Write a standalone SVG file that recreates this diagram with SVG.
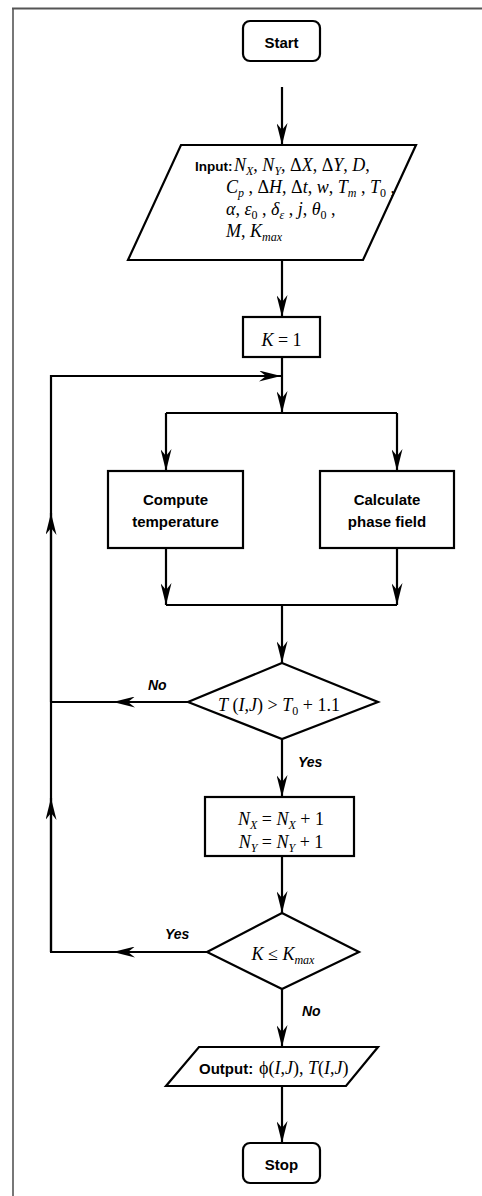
<svg xmlns="http://www.w3.org/2000/svg" width="482" height="1196" viewBox="0 0 482 1196">
<style>
.ln{stroke:#000;stroke-width:2.2;fill:none}
.box{fill:#fff;stroke:#000;stroke-width:2.2}
.lbl{font-family:"Liberation Sans",Arial,sans-serif;font-weight:bold;font-size:15px;fill:#000}
.yn{font-family:"Liberation Sans",Arial,sans-serif;font-weight:bold;font-style:italic;font-size:14px;fill:#000}
.m{font-family:"Liberation Serif","Times New Roman",serif;font-style:italic;font-size:18px;fill:#000}
.up{font-style:normal}
.sb{font-size:12px}
</style>
<defs>
<marker id="ah" markerUnits="userSpaceOnUse" markerWidth="22" markerHeight="11" viewBox="0 0 22 11" refX="22" refY="5.5" orient="auto">
<path d="M0,0 L22,5.5 L0,11 L7,5.5 Z" fill="#000"/>
</marker>
</defs>
<rect width="482" height="1196" fill="#fff"/>
<g id="frame">
<line x1="13" y1="8" x2="13" y2="1196" stroke="#777" stroke-width="2"/>
<line x1="12" y1="8.5" x2="482" y2="8.5" stroke="#555" stroke-width="2"/>
</g>
<g id="connectors">
<line class="ln" x1="282" y1="87" x2="282" y2="145" marker-end="url(#ah)"/>
<line class="ln" x1="282" y1="260" x2="282" y2="317" marker-end="url(#ah)"/>
<line class="ln" x1="282" y1="357" x2="282" y2="413" marker-end="url(#ah)"/>
<polyline class="ln" points="51,952 51,376 281,376" marker-end="url(#ah)"/>
<line class="ln" x1="51" y1="952" x2="51" y2="798" marker-end="url(#ah)"/>
<line class="ln" x1="51" y1="702" x2="51" y2="513" marker-end="url(#ah)"/>
<line class="ln" x1="166" y1="413" x2="397" y2="413"/>
<line class="ln" x1="166" y1="413" x2="166" y2="471" marker-end="url(#ah)"/>
<line class="ln" x1="397" y1="413" x2="397" y2="471" marker-end="url(#ah)"/>
<line class="ln" x1="166" y1="548" x2="166" y2="605" marker-end="url(#ah)"/>
<line class="ln" x1="397" y1="548" x2="397" y2="605" marker-end="url(#ah)"/>
<line class="ln" x1="166" y1="605" x2="397" y2="605"/>
<line class="ln" x1="282" y1="605" x2="282" y2="663" marker-end="url(#ah)"/>
<line class="ln" x1="188" y1="702" x2="113" y2="702" marker-end="url(#ah)"/>
<line class="ln" x1="114" y1="702" x2="51" y2="702"/>
<line class="ln" x1="282" y1="739" x2="282" y2="797" marker-end="url(#ah)"/>
<line class="ln" x1="282" y1="856" x2="282" y2="913" marker-end="url(#ah)"/>
<line class="ln" x1="207" y1="952" x2="113" y2="952" marker-end="url(#ah)"/>
<line class="ln" x1="114" y1="952" x2="50" y2="952"/>
<line class="ln" x1="282" y1="989" x2="282" y2="1047" marker-end="url(#ah)"/>
<line class="ln" x1="282" y1="1086" x2="282" y2="1143" marker-end="url(#ah)"/>
<text class="yn" x="148" y="690">No</text>
<text class="yn" x="298" y="767">Yes</text>
<text class="yn" x="165" y="939">Yes</text>
<text class="yn" x="302" y="1016">No</text>
</g>
<g id="start">
<rect class="box" x="243" y="21" width="77" height="40" rx="7"/>
<text class="lbl" x="281.5" y="48" text-anchor="middle">Start</text>
</g>
<g id="input">
<polygon class="box" points="181,145 416,145 363,260 128,260"/>
<text x="195" y="171"><tspan class="lbl" style="font-size:13.5px">Input:</tspan></text>
<text class="m" x="234" y="171">N<tspan class="sb" dy="4">X</tspan><tspan class="up" dy="-4">, </tspan>N<tspan class="sb" dy="4">Y</tspan><tspan class="up" dy="-4">, Δ</tspan>X<tspan class="up">, Δ</tspan>Y<tspan class="up">, </tspan>D<tspan class="up">,</tspan></text>
<text class="m" x="226" y="193">C<tspan class="sb" dy="4">p</tspan><tspan class="up" dy="-4"> , Δ</tspan>H<tspan class="up">, Δ</tspan>t<tspan class="up">, </tspan>w<tspan class="up">, </tspan>T<tspan class="sb" dy="4">m</tspan><tspan class="up" dy="-4"> , </tspan>T<tspan class="sb up" dy="4">0</tspan><tspan class="up" dy="-4"> ,</tspan></text>
<text class="m" x="226" y="215">α<tspan class="up">, </tspan>ε<tspan class="sb up" dy="4">0</tspan><tspan class="up" dy="-4"> , </tspan>δ<tspan class="sb" dy="4">ε</tspan><tspan class="up" dy="-4"> , </tspan>j<tspan class="up">, </tspan>θ<tspan class="sb up" dy="4">0</tspan><tspan class="up" dy="-4"> ,</tspan></text>
<text class="m" x="226" y="237">M<tspan class="up">, </tspan>K<tspan class="sb" dy="4">max</tspan></text>
</g>
<g id="k1">
<rect class="box" x="243" y="317" width="77" height="40"/>
<text class="m" x="281.5" y="346" text-anchor="middle">K<tspan class="up"> = 1</tspan></text>
</g>
<g id="temp">
<rect class="box" x="108" y="471" width="135" height="77"/>
<text class="lbl" x="175.5" y="505" text-anchor="middle">Compute</text>
<text class="lbl" x="175.5" y="527" text-anchor="middle">temperature</text>
</g>
<g id="phase">
<rect class="box" x="320" y="471" width="134" height="77"/>
<text class="lbl" x="387" y="505" text-anchor="middle">Calculate</text>
<text class="lbl" x="387" y="527" text-anchor="middle">phase field</text>
</g>
<g id="cond1">
<polygon class="box" points="282,663 378,702 282,739 188,702"/>
<text class="m" x="279" y="711" text-anchor="middle">T<tspan class="up"> (</tspan>I<tspan class="up">,</tspan>J<tspan class="up">) &gt; </tspan>T<tspan class="sb up" dy="4">0</tspan><tspan class="up" dy="-4"> + 1.1</tspan></text>
</g>
<g id="update">
<rect class="box" x="205" y="797" width="149" height="59"/>
<text class="m" x="281" y="825" text-anchor="middle">N<tspan class="sb" dy="4">X</tspan><tspan class="up" dy="-4"> =  </tspan>N<tspan class="sb" dy="4">X</tspan><tspan class="up" dy="-4"> + 1</tspan></text>
<text class="m" x="281" y="848" text-anchor="middle">N<tspan class="sb" dy="4">Y</tspan><tspan class="up" dy="-4"> =  </tspan>N<tspan class="sb" dy="4">Y</tspan><tspan class="up" dy="-4"> + 1</tspan></text>
</g>
<g id="cond2">
<polygon class="box" points="282,913 359,952 282,989 207,952"/>
<text class="m" x="283" y="960" text-anchor="middle">K<tspan class="up"> ≤ </tspan>K<tspan class="sb" dy="4">max</tspan></text>
</g>
<g id="output">
<polygon class="box" points="199,1047 378,1047 346,1086 166,1086"/>
<text x="199" y="1074"><tspan class="lbl">Output:</tspan></text>
<text class="m" x="259" y="1074"><tspan class="up">ϕ(</tspan>I<tspan class="up">,</tspan>J<tspan class="up">), </tspan>T<tspan class="up">(</tspan>I<tspan class="up">,</tspan>J<tspan class="up">)</tspan></text>
</g>
<g id="stop">
<rect class="box" x="243" y="1143" width="77" height="40" rx="7"/>
<text class="lbl" x="281.5" y="1170" text-anchor="middle">Stop</text>
</g>
</svg>
